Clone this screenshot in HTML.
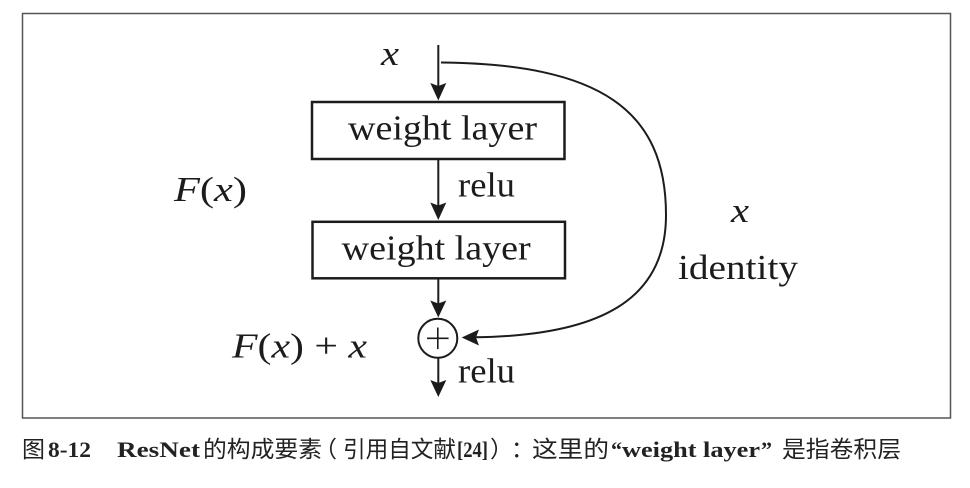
<!DOCTYPE html>
<html>
<head>
<meta charset="utf-8">
<style>
  html,body{margin:0;padding:0;background:#fff;}
  body{width:970px;height:488px;overflow:hidden;}
  svg{display:block;}
  .t{font-family:"Liberation Serif","DejaVu Serif",serif;fill:#1c1c1c;}
  .cjk{font-family:"Liberation Sans","Noto Sans CJK SC",sans-serif;fill:#222;font-size:23px;}
  .cb{font-family:"Liberation Serif",serif;font-weight:bold;fill:#222;font-size:22px;}
</style>
</head>
<body>
<svg width="970" height="488" viewBox="0 0 970 488" xmlns="http://www.w3.org/2000/svg">
  <rect x="0" y="0" width="970" height="488" fill="#fff"/>
  <!-- frame -->
  <rect x="22.5" y="13.5" width="928" height="404.5" fill="none" stroke="#555" stroke-width="1.5"/>

  <!-- input line & arrow -->
  <line x1="438.3" y1="45" x2="438.3" y2="90" stroke="#1c1c1c" stroke-width="2"/>
  <polygon points="438.3,100.5 430.3,83 438.3,86 446.3,83" fill="#1c1c1c"/>

  <!-- box 1 -->
  <rect x="312" y="102" width="252.5" height="57" fill="none" stroke="#1c1c1c" stroke-width="2.5"/>
  <text class="t" x="348" y="139.3" font-size="35" textLength="189" lengthAdjust="spacingAndGlyphs">weight layer</text>

  <!-- arrow 1->2 -->
  <line x1="438.3" y1="160" x2="438.3" y2="210" stroke="#1c1c1c" stroke-width="2"/>
  <polygon points="438.3,220 430.3,202.5 438.3,205.5 446.3,202.5" fill="#1c1c1c"/>
  <text class="t" x="458" y="196.7" font-size="35" textLength="57" lengthAdjust="spacingAndGlyphs">relu</text>

  <!-- box 2 -->
  <rect x="312.5" y="221.8" width="252.5" height="56.5" fill="none" stroke="#1c1c1c" stroke-width="2.5"/>
  <text class="t" x="341.7" y="259.3" font-size="35" textLength="189" lengthAdjust="spacingAndGlyphs">weight layer</text>

  <!-- arrow 2->circle -->
  <line x1="438.3" y1="279.5" x2="438.3" y2="306" stroke="#1c1c1c" stroke-width="2"/>
  <polygon points="438.3,317.5 430.3,300.5 438.3,303.5 446.3,300.5" fill="#1c1c1c"/>

  <!-- circle plus -->
  <circle cx="437.8" cy="338.3" r="19.5" fill="none" stroke="#1c1c1c" stroke-width="2"/>
  <line x1="427" y1="338.3" x2="448.6" y2="338.3" stroke="#1c1c1c" stroke-width="1.6"/>
  <line x1="437.8" y1="327.5" x2="437.8" y2="349.1" stroke="#1c1c1c" stroke-width="1.6"/>

  <!-- output arrow -->
  <line x1="438.3" y1="358" x2="438.3" y2="386" stroke="#1c1c1c" stroke-width="2"/>
  <polygon points="438.3,397 430.3,380 438.3,383 446.3,380" fill="#1c1c1c"/>
  <text class="t" x="458" y="382.3" font-size="35" textLength="57" lengthAdjust="spacingAndGlyphs">relu</text>

  <!-- identity curve -->
  <path d="M441,62.5 C600,64 666,110 666,215 C666,300 600,336 474,337.3" fill="none" stroke="#1c1c1c" stroke-width="2"/>
  <polygon points="461.7,337.5 479,329.5 476,337.5 479,345.5" fill="#1c1c1c"/>

  <!-- labels -->
  <text class="t" x="381" y="65" font-size="35" font-style="italic" textLength="18" lengthAdjust="spacingAndGlyphs">x</text>
  <text class="t" x="174" y="201" font-size="35" textLength="73" lengthAdjust="spacingAndGlyphs"><tspan font-style="italic">F</tspan>(<tspan font-style="italic">x</tspan>)</text>
  <text class="t" x="232" y="357.5" font-size="35" textLength="135" lengthAdjust="spacingAndGlyphs"><tspan font-style="italic">F</tspan>(<tspan font-style="italic">x</tspan>) + <tspan font-style="italic">x</tspan></text>
  <text class="t" x="731" y="222" font-size="35" font-style="italic" textLength="18" lengthAdjust="spacingAndGlyphs">x</text>
  <text class="t" x="678" y="279" font-size="35" textLength="120" lengthAdjust="spacingAndGlyphs">identity</text>

  <!-- caption -->
  <text class="cjk" x="22" y="457">图</text>
  <text class="cb" x="48" y="457" textLength="43" lengthAdjust="spacingAndGlyphs">8-12</text>
  <text class="cb" x="117" y="457" textLength="83" lengthAdjust="spacingAndGlyphs">ResNet</text>
  <text class="cjk" x="203" y="457" textLength="119" lengthAdjust="spacingAndGlyphs">的构成要素</text>
  <text class="cjk" x="314" y="457">（</text>
  <text class="cjk" x="343" y="457" textLength="113" lengthAdjust="spacingAndGlyphs">引用自文献</text>
  <text class="cb" x="457" y="457" textLength="31" lengthAdjust="spacingAndGlyphs">[24]</text>
  <text class="cjk" x="490" y="457">）</text>
  <text class="cjk" x="511" y="457">：</text>
  <text class="cjk" x="532" y="457" textLength="77" lengthAdjust="spacingAndGlyphs">这里的</text>
  <text class="cb" x="611" y="457">“</text>
  <text class="cb" x="622" y="457" textLength="138" lengthAdjust="spacingAndGlyphs">weight layer</text>
  <text class="cb" x="761" y="457">”</text>
  <text class="cjk" x="782" y="457" textLength="119" lengthAdjust="spacingAndGlyphs">是指卷积层</text>
</svg>
</body>
</html>
